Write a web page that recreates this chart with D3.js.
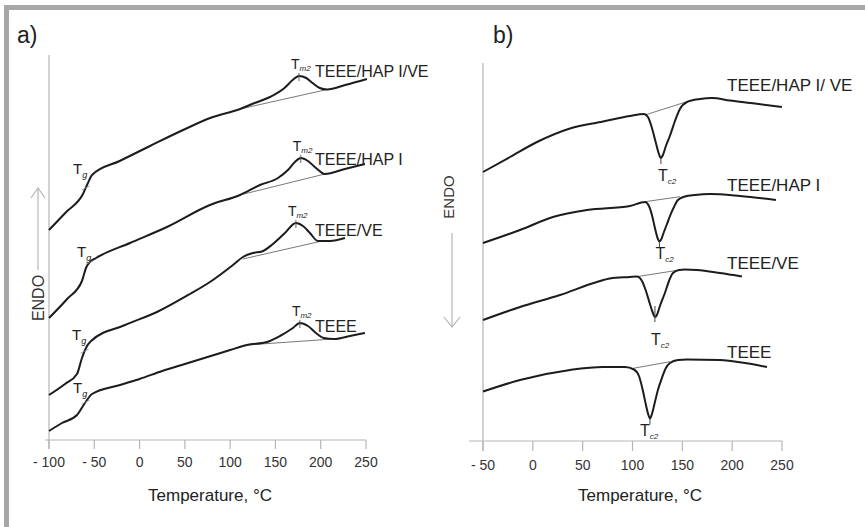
<!DOCTYPE html>
<html lang="en">
<head>
<meta charset="UTF-8">
<title>DSC curves</title>
<script src="https://cdnjs.cloudflare.com/ajax/libs/d3/7.8.5/d3.min.js"></script>
<style>
  body { margin: 0; background: #fff; }
  svg { display: block; font-family: 'Liberation Sans', Arial, sans-serif; }
  .curve { fill: none; stroke: #1c1c1c; stroke-width: 2px; stroke-linejoin: round; }
  .base { stroke: #6a6a6a; stroke-width: 0.9px; }
  .axis-line { stroke: #b5b5b5; stroke-width: 1.2px; }
  .tick-label { fill: #333; font-size: 14px; text-anchor: middle; }
  .title { fill: #222; font-size: 17px; text-anchor: middle; }
</style>
</head>
<body>
<div id="chart"></div>
<script>
// ---- data (temperature in °C, heat flow in arbitrary units) ----
const ticksA = [-100, -50, 0, 50, 100, 150, 200, 250];
const ticksB = [-50, 0, 50, 100, 150, 200, 250];
const namesA = ["TEEE/HAP I/VE", "TEEE/HAP I", "TEEE/VE", "TEEE"];
const namesB = ["TEEE/HAP I/ VE", "TEEE/HAP I", "TEEE/VE", "TEEE"];

// a) heating
const a1T = [-100, -81, -62.5, -57, -52.5, -22, 11.5, 48, 78, 111, 127, 144, 160, 169, 176, 184, 191, 199, 207, 227, 251];
const a1Y = [210, 228, 246, 257, 265, 279, 294, 310, 322, 331, 337, 343, 352, 360, 364, 362, 357, 352, 350.5, 355, 361];
const a2T = [-100, -80, -63.6, -59.2, -54.7, -48, -10.6, 30.2, 77.7, 110.8, 132.9, 152.8, 163.8, 171.5, 178, 185.9, 194.7, 204.6, 226.7, 248.8];
const a2Y = [122, 141, 159, 172, 178, 182, 197, 213, 235, 245, 255, 262, 270, 278, 282, 279, 272, 266, 271, 276];
const a3T = [-100, -82.3, -69.1, -63.6, -59.2, -53.6, -16.1, 19.2, 55.6, 77.7, 103.1, 114.1, 125.2, 135.1, 147.2, 160.5, 172.6, 180.4, 188.1, 196.9, 210.2, 226.7];
const a3Y = [45, 56, 66, 82, 92, 99, 115, 128, 146, 158, 175, 183, 187, 188.5, 196, 207, 217, 214, 207, 199, 199, 202];
const a4T = [-100, -85.7, -69.1, -60.3, -52.5, -21.6, 0, 25, 50, 75, 100, 118.5, 140.6, 155, 169.3, 177, 185.9, 194.7, 203.5, 214.6, 232.2, 248.8];
const a4Y = [9, 17, 25, 37, 46, 55, 61, 69, 76, 83, 90, 95, 98, 104, 112, 117, 114, 107, 102, 101, 104, 107];
const baseA = [[[111, 331], [207, 350.5]], [[110.8, 245], [204.6, 266]], [[114, 181], [201.3, 199]], [[118.5, 95], [213.5, 101]]];
const tgA = [-52.5, -48, -53.6, -52.5];

// b) cooling
const b1T = [-50, -22.9, 4.2, 37.3, 70.4, 97.4, 111.5, 115.5, 119.5, 123.5, 126.5, 128.5, 130.5, 133.5, 137.5, 142.6, 147.6, 154.6, 167.7, 179.7, 197.7, 222.8, 249.9];
const b1Y = [269, 284, 299, 312.5, 319.5, 325, 327, 324, 313, 298, 287, 283, 286, 295, 305, 320, 332, 339, 342, 343, 340.5, 337.5, 334];
const b2T = [-50, -12.9, 20.2, 54.3, 97.4, 112.5, 116.5, 119.5, 122.5, 125.5, 127, 128.5, 131.5, 134.6, 137.6, 141.6, 145.6, 152.6, 162.6, 177.7, 207.8, 243.9];
const b2Y = [198, 211, 224, 231, 235, 239, 235, 226, 213, 202, 199.5, 201, 209, 217, 225, 234, 241, 244.5, 246, 247, 245, 241];
const b3T = [-50, -12.9, 27.2, 64.3, 77.4, 97.4, 104.5, 109.5, 113.5, 117.5, 120.5, 122.5, 124.5, 127.5, 132.5, 136.6, 140.6, 146.6, 152.6, 164.6, 187.7, 209.8];
const b3Y = [121, 134, 146, 159, 162.5, 164, 164.5, 160, 150, 137, 128, 124, 126, 135, 148, 160, 168, 171, 171.5, 171, 168, 164.5];
const b4T = [-50, -12.9, 37.3, 70.4, 92.4, 101.5, 106.5, 110.5, 113.5, 116, 117.5, 119.5, 122.5, 125.5, 129.5, 133.5, 137.6, 145.6, 154.6, 187.7, 212.8, 234.9];
const b4Y = [49.5, 61, 71, 74, 74, 71.5, 65, 50, 36, 26, 22.5, 27, 39, 51, 63, 73, 78, 81, 81.5, 81, 78, 74];
const baseB = [[[112.5, 326], [152.6, 338.7]], [[112.5, 239.3], [147.6, 244.3]], [[104.2, 164.3], [142.6, 170.3]], [[100.8, 72.7], [137.6, 79.3]]];

const seriesA = [[a1T, a1Y], [a2T, a2Y], [a3T, a3Y], [a4T, a4Y]];
const seriesB = [[b1T, b1Y], [b2T, b2Y], [b3T, b3Y], [b4T, b4Y]];

// ---- layout ----
const W = 865, H = 527;
const svg = d3.select("#chart").append("svg").attr("width", W).attr("height", H);

svg.append("rect").attr("width", W).attr("height", H).attr("fill", "#fff");
// grey frame (top + left)
svg.append("rect").attr("x", 4).attr("y", 5).attr("width", W - 4).attr("height", 5).attr("fill", "#a7a7a7");
svg.append("rect").attr("x", 4).attr("y", 5).attr("width", 5).attr("height", H - 5).attr("fill", "#a7a7a7");

const xA = d3.scaleLinear().domain([-100, 250]).range([49, 366]);
const yA = d3.scaleLinear().domain([0, 385]).range([440, 55]);
const xB = d3.scaleLinear().domain([-50, 250]).range([483, 782]);
const yB = d3.scaleLinear().domain([0, 378]).range([441, 63]);

const fmt = d => d < 0 ? "- " + Math.abs(d) : String(d);

function interp(ts, ys, t) {
  const i = d3.bisectLeft(ts, t);
  if (i <= 0) return ys[0];
  if (i >= ts.length) return ys[ys.length - 1];
  const f = (t - ts[i - 1]) / (ts[i] - ts[i - 1]);
  return ys[i - 1] + f * (ys[i] - ys[i - 1]);
}

function drawAxes(g, x, y, ticks, axisX0, yTop, tickLen, labelY) {
  const y0 = y.range()[0];
  g.append("line").attr("class", "axis-line")
    .attr("x1", x.range()[0]).attr("x2", x.range()[0])
    .attr("y1", yTop).attr("y2", y0 + tickLen);
  g.append("line").attr("class", "axis-line")
    .attr("x1", axisX0).attr("x2", x.range()[1])
    .attr("y1", y0).attr("y2", y0);
  g.selectAll(null).data(ticks).enter().append("line").attr("class", "axis-line")
    .attr("x1", d => x(d)).attr("x2", d => x(d))
    .attr("y1", y0).attr("y2", y0 + tickLen);
  g.selectAll(null).data(ticks).enter().append("text").attr("class", "tick-label")
    .attr("x", d => x(d)).attr("y", labelY).text(fmt);
}

function subLabel(g, x, y, main, sub, size, subSize, dy) {
  const t = g.append("text").attr("x", x).attr("y", y).attr("fill", "#222").style("font-size", size + "px");
  t.append("tspan").text(main);
  t.append("tspan").attr("dy", dy).style("font-size", subSize + "px").style("font-style", "italic").text(sub);
}

const line = (x, y) => d3.line().x(d => x(d[0])).y(d => y(d[1])).curve(d3.curveMonotoneX);

// ---------- panel a ----------
const ga = svg.append("g");
drawAxes(ga, xA, yA, ticksA, 45, 55, 9, 467);
ga.append("text").attr("x", 17).attr("y", 43).attr("fill", "#222").style("font-size", "23px").text("a)");
ga.append("text").attr("class", "title").attr("x", 210).attr("y", 501).text("Temperature, °C");
ga.append("text").attr("transform", "translate(44,298) rotate(-90)").attr("text-anchor", "middle")
  .attr("fill", "#333").style("font-size", "16px").text("ENDO");
ga.append("line").attr("class", "axis-line").attr("x1", 38).attr("x2", 38).attr("y1", 188).attr("y2", 270);
ga.append("path").attr("d", "M31,198 L38,188 L45,198").attr("fill", "none").attr("stroke", "#b5b5b5").attr("stroke-width", 1.2);

seriesA.forEach(([ts, ys], i) => {
  const pts = ts.map((t, j) => [t, ys[j]]);
  const b = baseA[i];
  ga.append("line").attr("class", "base")
    .attr("x1", xA(b[0][0])).attr("y1", yA(b[0][1])).attr("x2", xA(b[1][0])).attr("y2", yA(b[1][1]));
  ga.append("path").attr("class", "curve").attr("d", line(xA, yA)(pts));

  // Tg
  const tg = tgA[i];
  const kx = xA(tg), ky = yA(interp(ts, ys, tg));
  subLabel(ga, kx - 19, ky - 1, "T", "g", 15, 9, 4);
  const mt = tg - 7, mx = xA(mt), my = yA(interp(ts, ys, mt));
  ga.append("line").attr("stroke", "#8a8a8a").attr("stroke-width", 0.8)
    .attr("x1", mx - 4).attr("y1", my + 2).attr("x2", mx + 4).attr("y2", my - 2);

  // Tm2 peak
  const pk = d3.maxIndex(ys.map((v, j) => ts[j] > 140 ? v : -Infinity));
  const px = xA(ts[pk]), py = yA(ys[pk]);
  ga.append("line").attr("stroke", "#555").attr("stroke-width", 0.9)
    .attr("x1", px).attr("x2", px).attr("y1", py - 3).attr("y2", py + 5);
  subLabel(ga, px - 8, py - 7, "T", "m2", 14, 8, 2);

  ga.append("text").attr("x", 315).attr("y", py + [1, 7, 13, 9][i])
    .attr("fill", "#222").style("font-size", "16px").text(namesA[i]);
});

// ---------- panel b ----------
const gb = svg.append("g");
drawAxes(gb, xB, yB, ticksB, 469, 63, 10, 470);
gb.append("text").attr("x", 493).attr("y", 43).attr("fill", "#222").style("font-size", "23px").text("b)");
gb.append("text").attr("class", "title").attr("x", 640).attr("y", 501).text("Temperature, °C");
gb.append("text").attr("transform", "translate(454,197) rotate(-90)").attr("text-anchor", "middle")
  .attr("fill", "#333").style("font-size", "15px").text("ENDO");
gb.append("line").attr("class", "axis-line").attr("x1", 452).attr("x2", 452).attr("y1", 233).attr("y2", 327);
gb.append("path").attr("d", "M444,317 L452,327 L460,317").attr("fill", "none").attr("stroke", "#b5b5b5").attr("stroke-width", 1.2);

const labelYB = [91, 191, 269, 358];
const tcDy = [23, 17, 28, 17];
const tcDx = [-3, -4, -4, -10];
seriesB.forEach(([ts, ys], i) => {
  const pts = ts.map((t, j) => [t, ys[j]]);
  const b = baseB[i];
  gb.append("line").attr("class", "base")
    .attr("x1", xB(b[0][0])).attr("y1", yB(b[0][1])).attr("x2", xB(b[1][0])).attr("y2", yB(b[1][1]));
  gb.append("path").attr("class", "curve").attr("d", line(xB, yB)(pts));

  // Tc2 minimum
  const mn = d3.minIndex(ys.map((v, j) => (ts[j] > 100 && ts[j] < 140) ? v : Infinity));
  const mx = xB(ts[mn]), my = yB(ys[mn]);
  const tick = i === 2 ? [-11, 5] : [0, 6];
  gb.append("line").attr("stroke", "#444").attr("stroke-width", 1)
    .attr("x1", mx).attr("x2", mx).attr("y1", my + tick[0]).attr("y2", my + tick[1]);
  subLabel(gb, mx + tcDx[i], my + tcDy[i], "T", "c2", 16, 8, 3);

  gb.append("text").attr("x", 727).attr("y", labelYB[i])
    .attr("fill", "#222").style("font-size", "17px").text(namesB[i]);
});
</script>
</body>
</html>
